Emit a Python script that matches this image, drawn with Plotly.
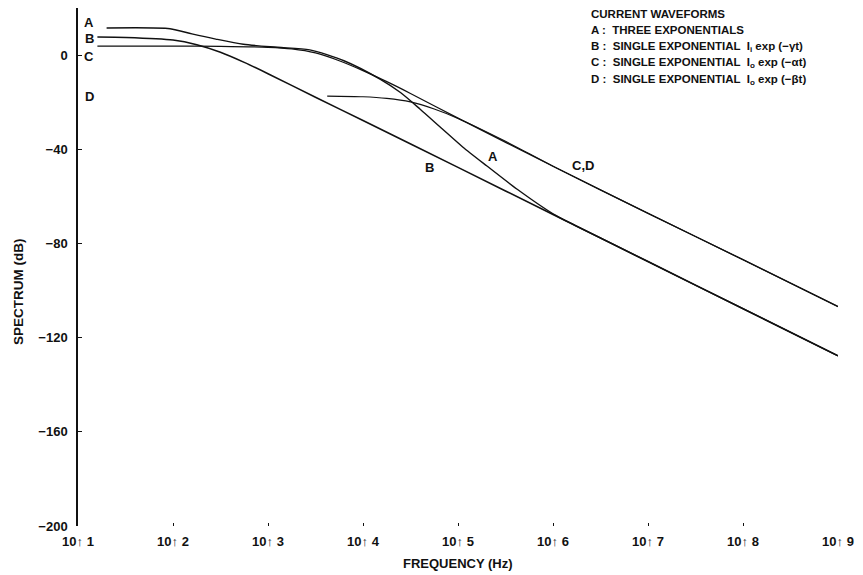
import plotly.graph_objects as go

# Spectra of the four current waveforms (frequency in Hz, level in dB)
freq_a = [20, 93, 158, 282, 550, 1260, 2750, 6300, 1.51e4, 2.5e4, 4.0e4, 6.9e4,
          1.12e5, 2.0e5, 4.2e5, 1.0e6, 1.7e6, 1e7, 1e8, 1e9]
spec_a = [11.5, 11.2, 9.0, 6.8, 4.6, 3.3, 2.2, -2.4, -10.2, -16.0, -23.0, -31.5,
          -39.0, -47.0, -57.0, -67.4, -72.3, -87.7, -107.7, -127.7]

freq_b = [16, 32, 100, 178, 316, 562, 1000, 3160, 1e4, 1e5, 1e6, 1e7, 1e8, 1e9]
spec_b = [7.7, 7.5, 6.4, 4.4, 1.2, -3.1, -7.9, -17.9, -27.8, -47.7, -67.7, -87.7,
          -107.7, -127.7]

freq_c = [16, 100, 316, 1000, 1780, 3160, 5620, 1e4, 1.78e4, 3.16e4, 1e5, 1e6,
          1e7, 1e8, 1e9]
spec_c = [3.8, 3.8, 3.7, 3.3, 2.6, 0.9, -2.4, -6.6, -11.3, -16.3, -26.8, -47.2,
          -67.2, -86.9, -106.8]

freq_d = [4.2e3, 1e4, 1.78e4, 3.16e4, 5.62e4, 1e5, 3.16e5, 1e6, 1e7, 1e8, 1e9]
spec_d = [-17.4, -17.7, -18.4, -19.9, -22.9, -26.9, -36.6, -47.2, -67.2, -86.9,
          -106.8]

x_tick_vals = [1e1, 1e2, 1e3, 1e4, 1e5, 1e6, 1e7, 1e8, 1e9]
x_tick_text = ["10\u2191 1", "10\u2191 2", "10\u2191 3", "10\u2191 4", "10\u2191 5",
               "10\u2191 6", "10\u2191 7", "10\u2191 8", "10\u2191 9"]
y_tick_vals = [0, -40, -80, -120, -160, -200]
y_tick_text = ["0", "\u221240", "\u221280", "\u2212120", "\u2212160", "\u2212200"]

legend_lines = [
    "CURRENT WAVEFORMS",
    "A :  THREE EXPONENTIALS",
    "B :  SINGLE EXPONENTIAL  I<sub>i</sub> exp (\u2212\u03b3t)",
    "C :  SINGLE EXPONENTIAL  I<sub>o</sub> exp (\u2212\u03b1t)",
    "D :  SINGLE EXPONENTIAL  I<sub>o</sub> exp (\u2212\u03b2t)",
]

FONT = "Liberation Sans, Arial, sans-serif"
INK = "#111111"

fig = go.Figure()
for fx, fy, w in [(freq_c, spec_c, 1.3), (freq_d, spec_d, 1.2),
                  (freq_b, spec_b, 1.6), (freq_a, spec_a, 1.4)]:
    fig.add_trace(go.Scatter(x=fx, y=fy, mode="lines",
                             line=dict(color=INK, width=w, shape="spline", smoothing=0.7),
                             showlegend=False, hoverinfo="skip"))

annotations = []
# curve tags beside the axis
for txt, yv in [("A", 14), ("B", 7.2), ("C", -0.4), ("D", -17.4)]:
    annotations.append(dict(x=1.12, y=yv, xref="x", yref="y", text=f"<b>{txt}</b>",
                            showarrow=False, font=dict(size=13, family=FONT, color=INK)))
# curve tags inside the plot
for txt, xv, yv in [("B", 4.705, -47.7), ("A", 5.37, -43.0), ("C,D", 6.32, -47.0)]:
    annotations.append(dict(x=xv, y=yv, xref="x", yref="y", text=f"<b>{txt}</b>",
                            showarrow=False, font=dict(size=13, family=FONT, color=INK)))
# waveform key
for i, line in enumerate(legend_lines):
    annotations.append(dict(x=589, y=14 + 16.5 * i, xref="paper", yref="paper",
                            text=f"<b>{line}</b>", showarrow=False, xanchor="left",
                            yanchor="middle", font=dict(size=11.5, family=FONT, color=INK)))
# axis titles
annotations.append(dict(x=18, y=292, text="<b>SPECTRUM (dB)</b>", textangle=-90,
                        showarrow=False, xanchor="center", yanchor="middle",
                        font=dict(size=13.5, family=FONT, color=INK)))
annotations.append(dict(x=458, y=563, text="<b>FREQUENCY (Hz)</b>",
                        showarrow=False, xanchor="center", yanchor="middle",
                        font=dict(size=13, family=FONT, color=INK)))

# pixel placement for paper-anchored text
W, H = 863, 575
L, R, T, B = 78, 25, 8, 49
for a in annotations:
    if a.get("xref") is None:
        a["xref"] = "paper"
        a["yref"] = "paper"
    if a["xref"] == "paper":
        a["x"] = (a["x"] - L) / (W - L - R)
        a["y"] = 1 - (a["y"] - T) / (H - T - B)

fig.update_layout(
    width=W, height=H,
    margin=dict(l=L, r=R, t=T, b=B),
    paper_bgcolor="white", plot_bgcolor="white",
    font=dict(family=FONT, color=INK),
    annotations=annotations,
    xaxis=dict(type="log", range=[1, 9], showgrid=False, zeroline=False,
               showline=False, tickvals=x_tick_vals,
               ticktext=[f"<b>{t}</b>" for t in x_tick_text],
               ticks="inside", ticklen=3, tickcolor=INK,
               ticklabelstandoff=6,
               tickfont=dict(size=13, family=FONT, color=INK)),
    yaxis=dict(range=[-200, 20], showgrid=False, zeroline=False,
               showline=True, linecolor=INK, linewidth=1.5,
               tickvals=y_tick_vals,
               ticktext=[f"<b>{t}</b>" for t in y_tick_text],
               ticks="inside", ticklen=4, tickcolor=INK,
               ticklabelstandoff=6,
               tickfont=dict(size=13, family=FONT, color=INK)),
)

fig.write_html("out.html")
